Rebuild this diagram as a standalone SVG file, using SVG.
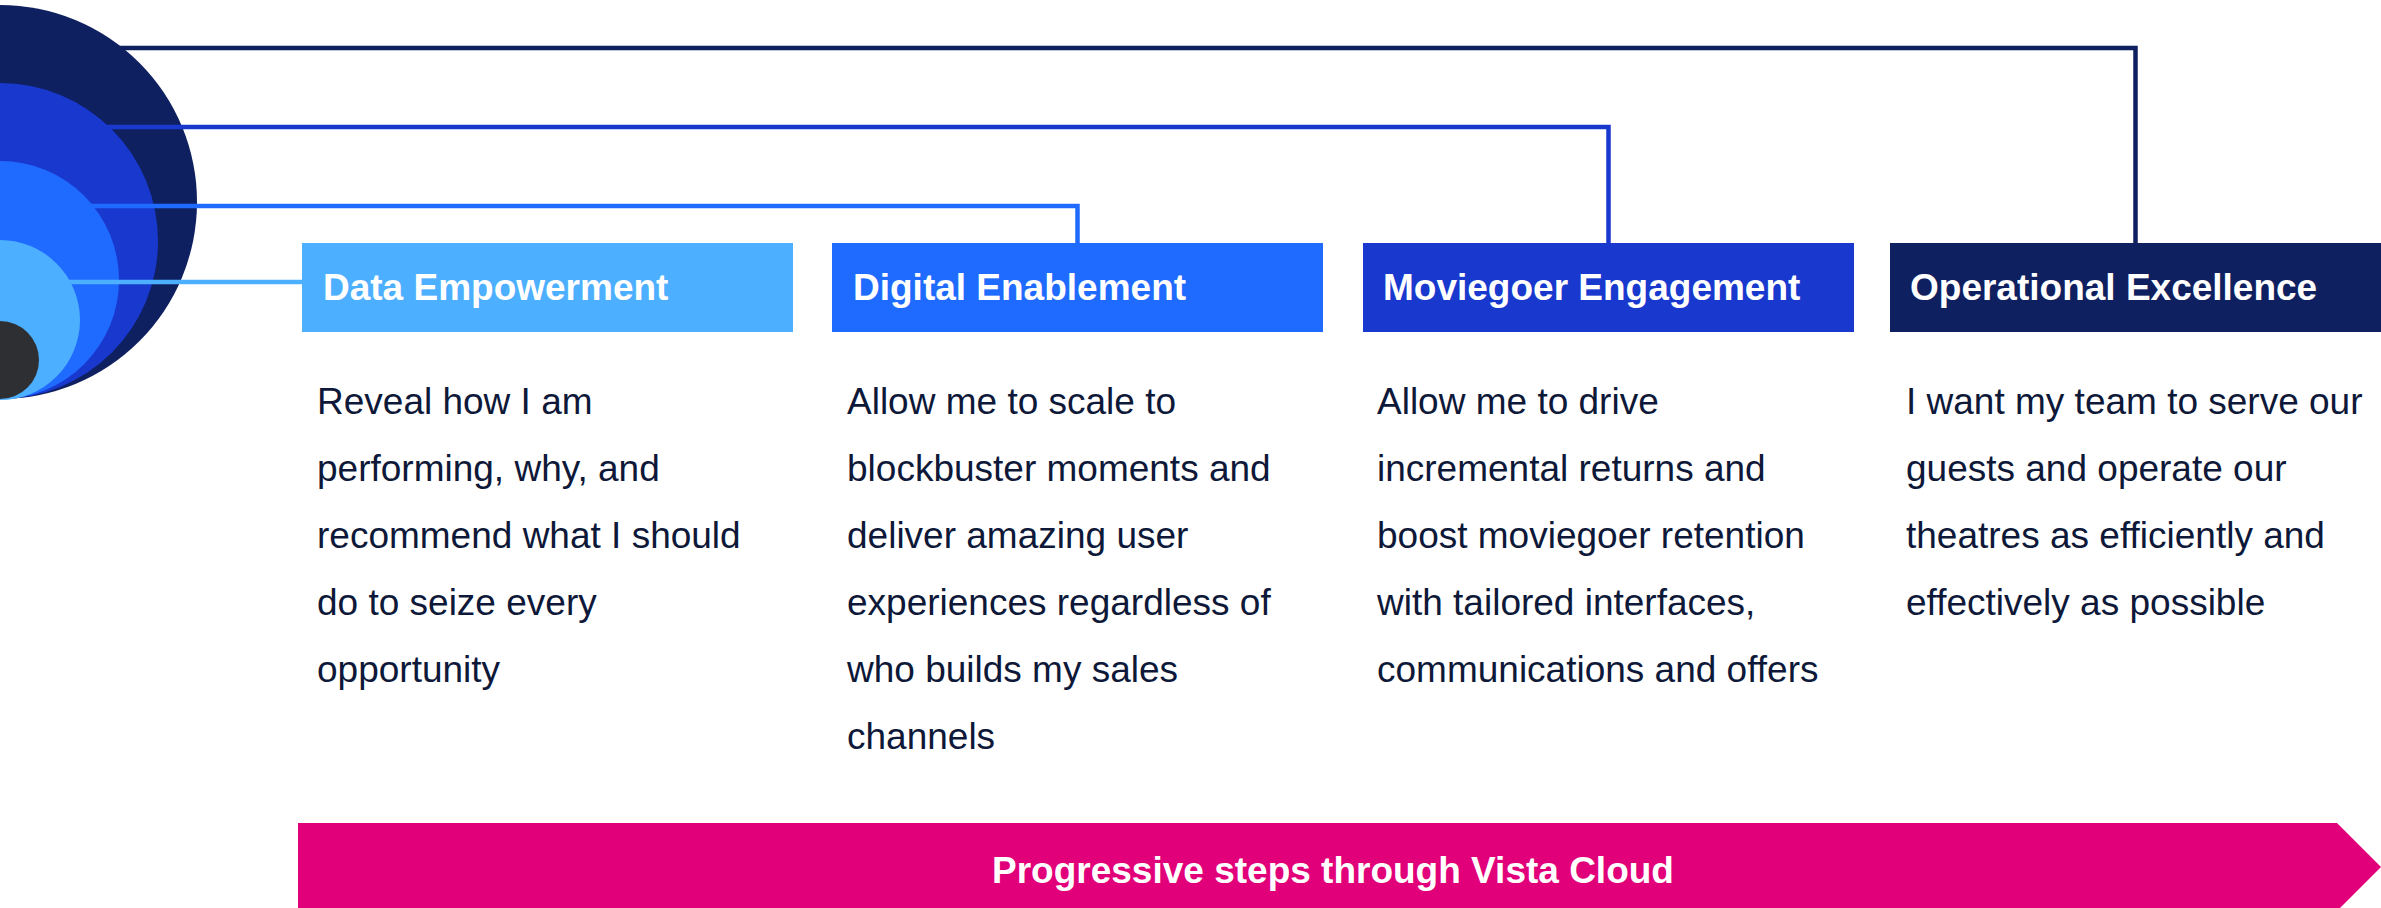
<svg xmlns="http://www.w3.org/2000/svg" width="2381" height="908" viewBox="0 0 2381 908">
  <style>
    .title { font-family: "Liberation Sans", Arial, sans-serif; font-size: 37px; font-weight: bold; fill: #FFFFFF; }
    .body { font-family: "Liberation Sans", Arial, sans-serif; font-size: 37px; fill: #0E1838; }
    .link { fill: none; stroke-width: 4.5; stroke-linejoin: miter; }
    .c1 { fill: #0F2060; }
    .c2 { fill: #1838CE; }
    .c3 { fill: #206BFF; }
    .c4 { fill: #4DAFFF; }
  </style>
  <rect width="2381" height="908" fill="#FFFFFF"/>

  <!-- nested target rings -->
  <g id="rings">
    <circle cx="0" cy="202" r="197" class="c1"/>
    <circle cx="0" cy="241" r="158" class="c2"/>
    <circle cx="0" cy="280" r="119" class="c3"/>
    <circle cx="0" cy="320" r="80" class="c4"/>
    <circle cx="0" cy="360" r="39" fill="#2D2F33"/>
  </g>

  <!-- connectors from rings to the pillar headers -->
  <g id="connectors">
    <polyline class="link" stroke="#0F2060" points="0,48 2135.5,48 2135.5,243"/>
    <polyline class="link" stroke="#1838CE" points="0,127 1608.5,127 1608.5,243"/>
    <polyline class="link" stroke="#206BFF" points="0,206 1077.5,206 1077.5,243"/>
    <polyline class="link" stroke="#4DAFFF" points="0,282 302,282"/>
  </g>

  <g id="data-empowerment">
    <rect x="302" y="243" width="491" height="89" class="c4"/>
    <text x="323" y="300" class="title">Data Empowerment</text>
    <text class="body">
      <tspan x="317" y="414">Reveal how I am</tspan>
      <tspan x="317" y="481">performing, why, and</tspan>
      <tspan x="317" y="548">recommend what I should</tspan>
      <tspan x="317" y="615">do to seize every</tspan>
      <tspan x="317" y="682">opportunity</tspan>
    </text>
  </g>

  <g id="digital-enablement">
    <rect x="832" y="243" width="491" height="89" class="c3"/>
    <text x="853" y="300" class="title">Digital Enablement</text>
    <text class="body">
      <tspan x="847" y="414">Allow me to scale to</tspan>
      <tspan x="847" y="481">blockbuster moments and</tspan>
      <tspan x="847" y="548">deliver amazing user</tspan>
      <tspan x="847" y="615">experiences regardless of</tspan>
      <tspan x="847" y="682">who builds my sales</tspan>
      <tspan x="847" y="749">channels</tspan>
    </text>
  </g>

  <g id="moviegoer-engagement">
    <rect x="1363" y="243" width="491" height="89" class="c2"/>
    <text x="1383" y="300" class="title">Moviegoer Engagement</text>
    <text class="body">
      <tspan x="1377" y="414">Allow me to drive</tspan>
      <tspan x="1377" y="481">incremental returns and</tspan>
      <tspan x="1377" y="548">boost moviegoer retention</tspan>
      <tspan x="1377" y="615">with tailored interfaces,</tspan>
      <tspan x="1377" y="682">communications and offers</tspan>
    </text>
  </g>

  <g id="operational-excellence">
    <rect x="1890" y="243" width="491" height="89" class="c1"/>
    <text x="1910" y="300" class="title">Operational Excellence</text>
    <text class="body">
      <tspan x="1906" y="414">I want my team to serve our</tspan>
      <tspan x="1906" y="481">guests and operate our</tspan>
      <tspan x="1906" y="548">theatres as efficiently and</tspan>
      <tspan x="1906" y="615">effectively as possible</tspan>
    </text>
  </g>

  <g id="progress-arrow">
    <polygon points="298,823 2337,823 2381,867 2337,911 298,911" fill="#E2007A"/>
    <text x="1333" y="883" class="title" text-anchor="middle">Progressive steps through Vista Cloud</text>
  </g>
</svg>
